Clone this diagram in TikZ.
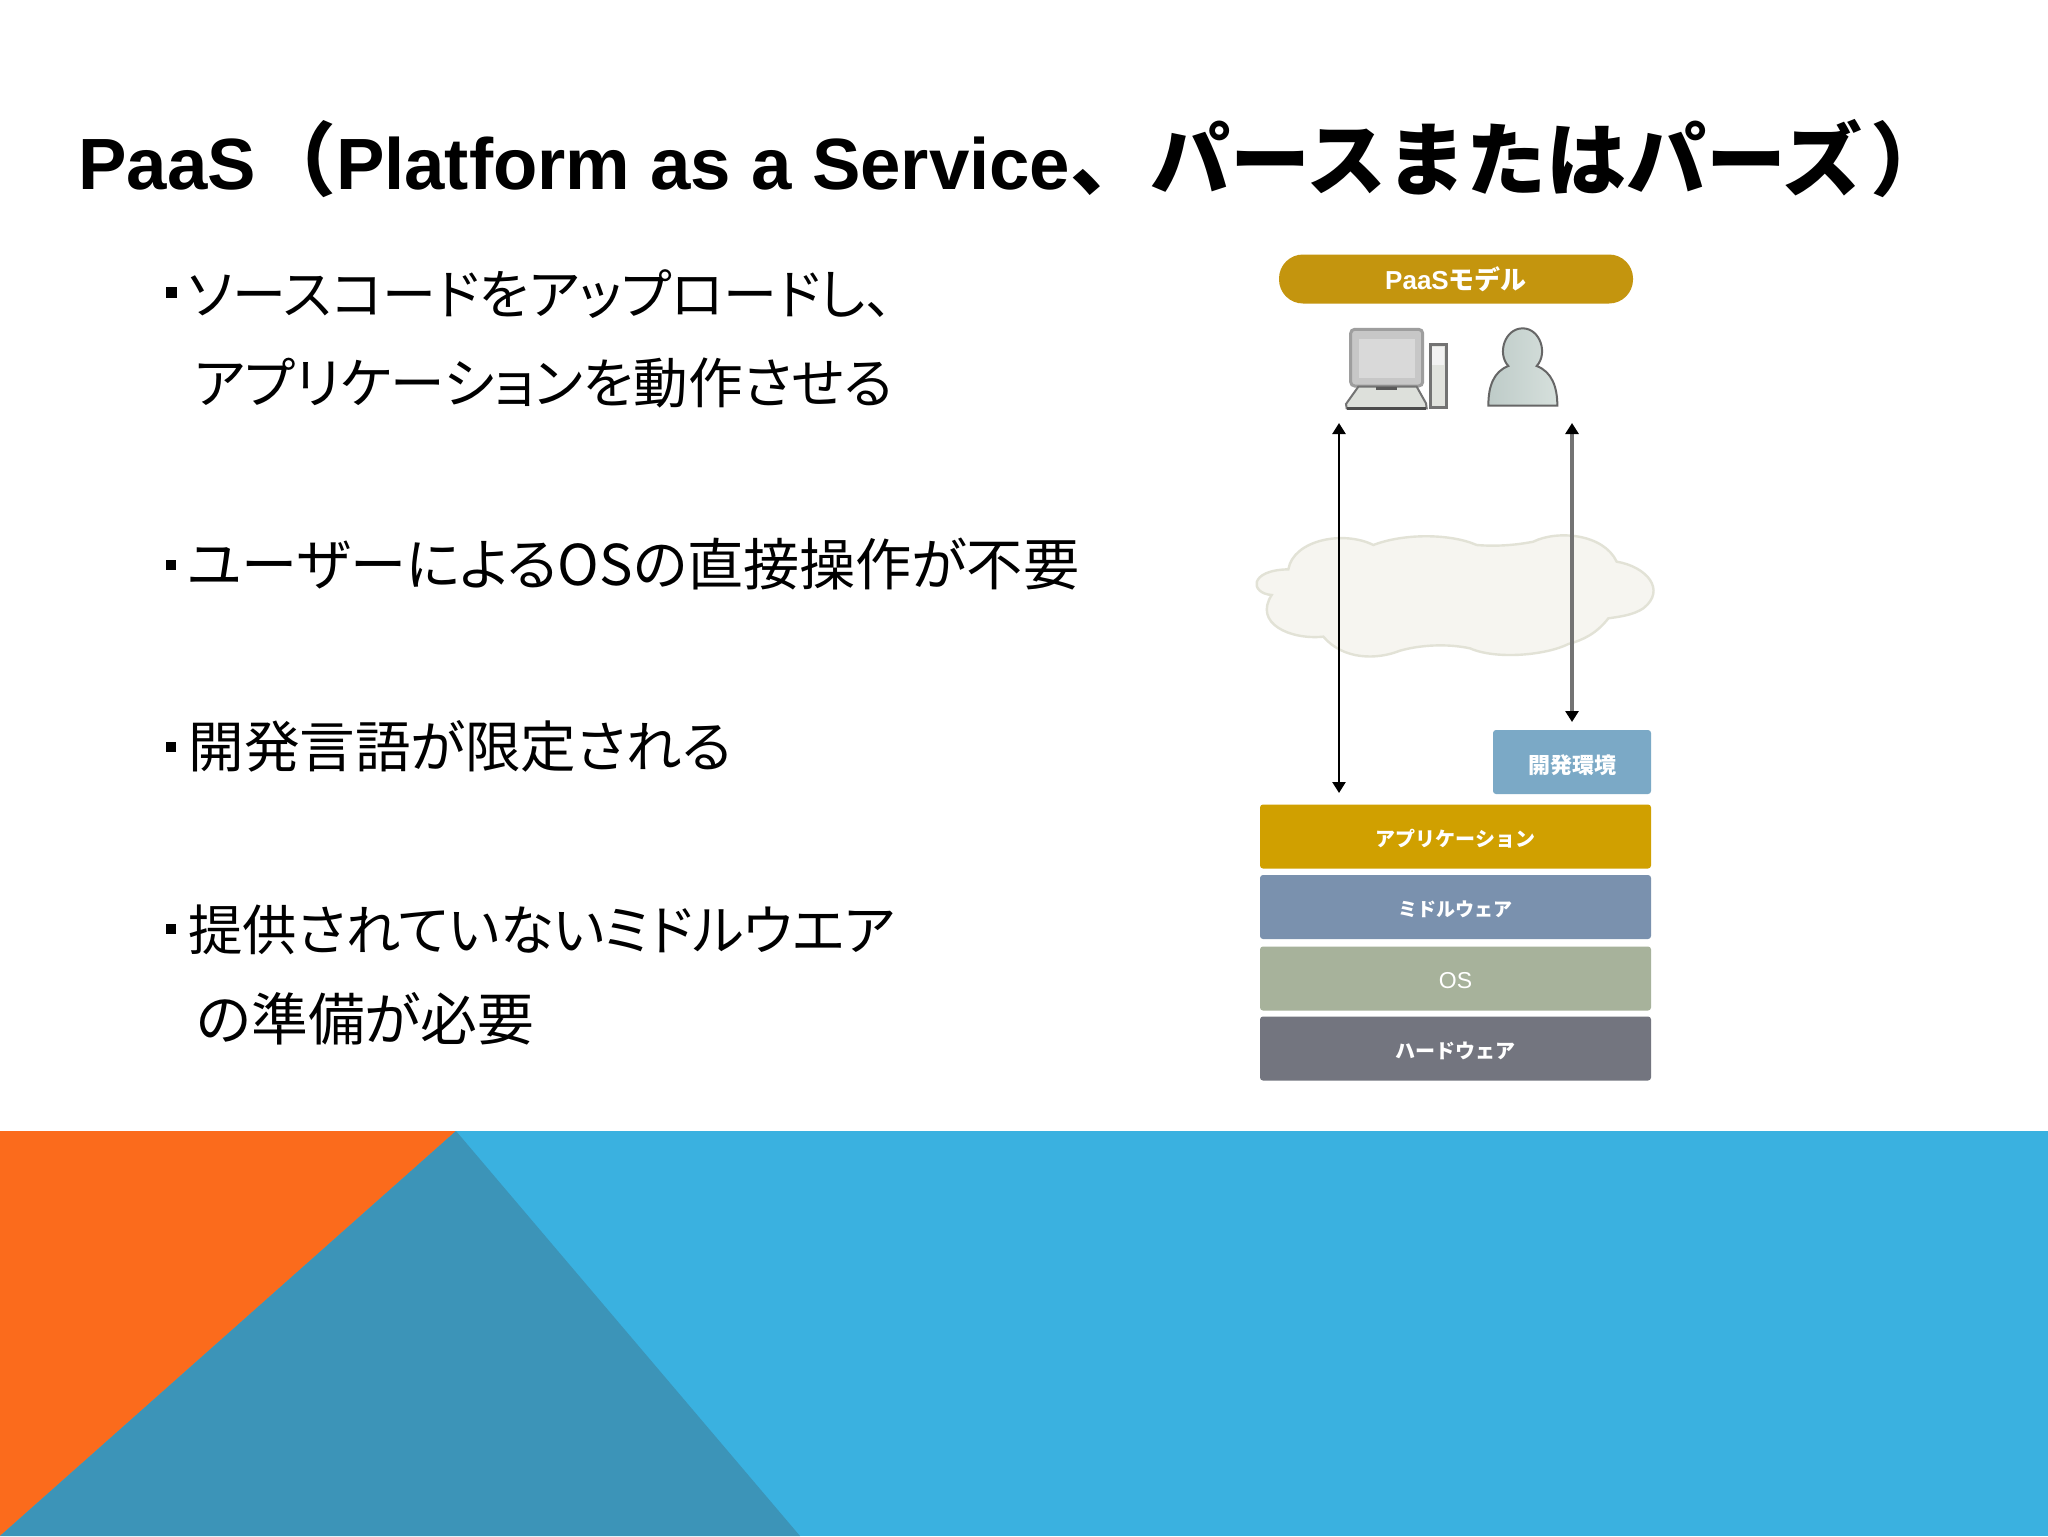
\documentclass[tikz,border=0pt]{standalone}
\usepackage{fontspec}
\usetikzlibrary{arrows.meta}
\setmainfont{Liberation Sans}
\newfontfamily\cjk{Noto Sans CJK JP}
\newfontfamily\cjkp[RawFeature=+palt]{Noto Sans CJK JP}
\definecolor{orangeB}{HTML}{FB6B1C}
\definecolor{tealB}{HTML}{3C94B8}
\definecolor{blueB}{HTML}{3AB1E0}
\tikzset{
  bodyline/.style={anchor=base west,inner sep=0pt,font=\cjkp\fontsize{#1}{#1}\selectfont,text=black},
  bulletmark/.style={fill=black,draw=none},
  stackbox/.style={draw=none,rounded corners=1.5pt,minimum width=195.5pt,minimum height=32pt,inner sep=0pt,text=white,text height=9.6pt,text depth=0pt,font=\cjk\bfseries\fontsize{10pt}{10pt}\selectfont},
  twoway/.style={{Triangle[length=5.5pt,width=6.5pt,black]}-{Triangle[length=5.5pt,width=6.5pt,black]}},
}
\begin{document}
\begin{tikzpicture}[x=0.5pt,y=-0.5pt]
\useasboundingbox (0,0) rectangle (2048,1536);
\fill[white] (0,0) rectangle (2048,1536);
% bottom band
\fill[blueB] (0,1131) rectangle (2048,1536);
\fill[orangeB] (0,1131) -- (456,1131) -- (0,1536) -- cycle;
\fill[tealB] (456,1131) -- (800,1536) -- (0,1536) -- cycle;
% title
\node[anchor=base west,inner sep=0pt,font=\fontsize{36.3pt}{36.3pt}\selectfont\bfseries] (title) at (78,189)
  {PaaS{\fontsize{40pt}{40pt}\selectfont\cjk（}Platform as a Service{\fontsize{40pt}{40pt}\selectfont\cjk 、パースまたはパーズ\hspace{4pt}）}};
% bullets
\fill[bulletmark] (166,287) rectangle (177,298);
\node[bodyline=27pt] (l1) at (188,314) {ソースコードをアップロードし、};
\node[bodyline=27.3pt] (l2) at (194,403) {アプリケーションを動作させる};
\fill[bulletmark] (166,560) rectangle (176,570);
\node[bodyline=28.1pt] (l3) at (187,585) {ユーザーによるOSの直接操作が不要};
\fill[bulletmark] (166,742) rectangle (176,752);
\node[bodyline=27.8pt] (l4) at (188,767) {開発言語が限定される};
\fill[bulletmark] (166,924) rectangle (176,934);
\node[bodyline=27.2pt] (l5) at (188,950) {提供されていないミドルウエア};
\node[bodyline=28.4pt] (l6) at (196,1040) {の準備が必要};
% pill
\node[fill={rgb,255:red,196;green,149;blue,14},rounded corners=12pt,minimum width=177pt,minimum height=24.5pt,inner sep=0pt,text=white,font=\bfseries\fontsize{13pt}{13pt}\selectfont] (pill) at (1456,279) {PaaS{\cjk モデル}};
% computer and person icons, in units of the 3x crop
\begin{scope}[shift={(1230,240)},scale=1/3]
  \filldraw[draw=black!38,fill=black!22,line width=1.5pt,rounded corners=2pt] (362,268) rectangle (578,438);
  \fill[black!15] (388,296) rectangle (555,415);
  \filldraw[draw=black!55,fill={rgb,255:red,221;green,224;blue,219},line width=1pt] (385,440) -- (560,440) -- (588,490) -- (590,505) -- (350,505) -- (348,492) -- cycle;
  \draw[black!70,line width=1.5pt] (352,505) -- (588,505);
  \draw[black!65,line width=1.5pt] (438,444) -- (500,444);
  \filldraw[draw=black!55,fill={rgb,255:red,225;green,227;blue,222},line width=1.5pt] (600,312) rectangle (648,503);
  \fill[black!5] (606,320) rectangle (642,375);
  \filldraw[draw=black!60,left color={rgb,255:red,190;green,203;blue,200},right color={rgb,255:red,214;green,224;blue,220},line width=1pt]
    (775,497) .. controls (775,440) and (790,395) .. (835,378) .. controls (800,340) and (825,265) .. (878,265) .. controls (930,265) and (955,340) .. (920,378) .. controls (965,395) and (982,440) .. (982,497) -- cycle;
\end{scope}
% cloud
\begin{scope}[shift={(1230,520)},scale=1/3]
  \filldraw[draw={rgb,255:red,226;green,226;blue,214},fill={rgb,255:red,246;green,245;blue,240},line width=1.2pt]
    (125,225) .. controls (60,220) and (55,150) .. (175,148)
    .. controls (190,60) and (340,30) .. (430,75)
    .. controls (520,40) and (660,40) .. (740,75)
    .. controls (800,80) and (860,75) .. (910,65)
    .. controls (980,30) and (1120,40) .. (1160,125)
    .. controls (1250,140) and (1310,210) .. (1240,265)
    .. controls (1210,285) and (1170,290) .. (1135,295)
    .. controls (1100,340) and (1060,360) .. (1015,372)
    .. controls (950,405) and (800,420) .. (720,385)
    .. controls (650,370) and (570,375) .. (510,392)
    .. controls (440,420) and (340,420) .. (280,350)
    .. controls (180,360) and (70,310) .. (125,225) -- cycle;
\end{scope}
% stack
\node[stackbox,fill={rgb,255:red,123;green,169;blue,198},minimum width=79pt,text height=11pt,font=\cjk\bfseries\fontsize{11pt}{11pt}\selectfont] (dev) at (1572,762) {開発環境};
\node[stackbox,fill={rgb,255:red,208;green,160;blue,0}] (app) at (1455.5,836.5) {アプリケーション};
\node[stackbox,fill={rgb,255:red,122;green,145;blue,174},font=\cjk\bfseries\fontsize{9.5pt}{9.5pt}\selectfont] (mw) at (1455.5,907) {ミドルウェア};
\node[stackbox,fill={rgb,255:red,167;green,178;blue,155},font=\fontsize{11.5pt}{11.5pt}\selectfont] (os) at (1455.5,978.5) {OS};
\node[stackbox,fill={rgb,255:red,115;green,117;blue,127}] (hw) at (1455.5,1048.5) {ハードウェア};
% connectors
\coordinate (atop) at (1339,423);
\coordinate (abot) at (1339,793);
\coordinate (btop) at (1572,423);
\coordinate (bbot) at (1572,722);
\draw[twoway,line width=1.2pt,black] (atop) -- (abot);
\draw[twoway,line width=2.2pt,black!55] (btop) -- (bbot);
\end{tikzpicture}
\end{document}
